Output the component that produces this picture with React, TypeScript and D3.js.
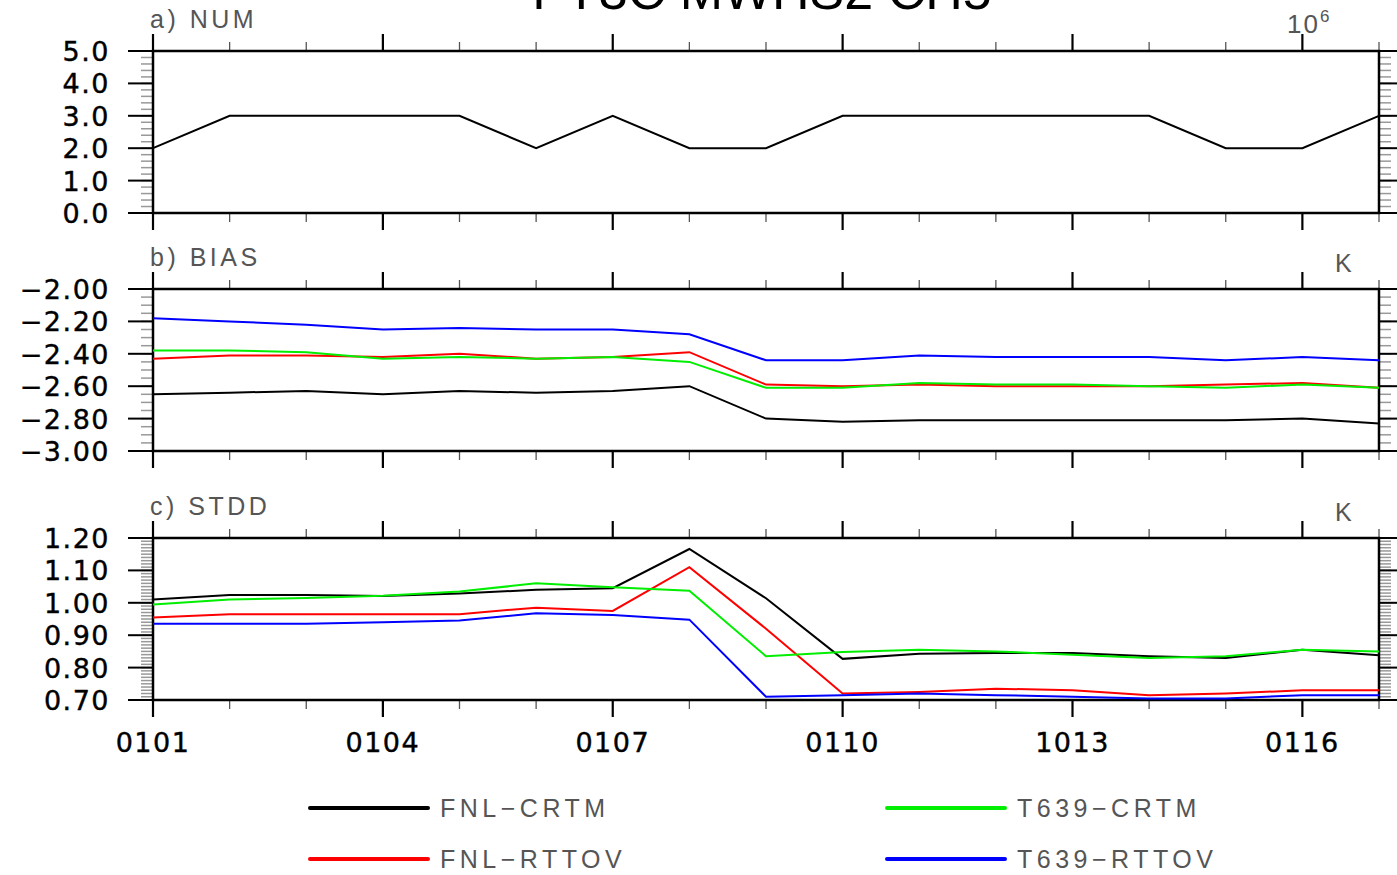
import * as d3 from "d3";

// dates 0101 .. 0117, one point per day
const days = d3.range(17);
const dayLabels = ["0101", "0104", "0107", "0110", "1013", "0116"];
const labelDays = [0, 3, 6, 9, 12, 15];

const numObs = [2, 3, 3, 3, 3, 2, 3, 2, 2, 3, 3, 3, 3, 3, 2, 2, 3];

const biasFnlCrtm = [-2.65, -2.64, -2.63, -2.65, -2.63, -2.64, -2.63, -2.6, -2.8, -2.82, -2.81, -2.81, -2.81, -2.81, -2.81, -2.8, -2.83];
const biasFnlRttov = [-2.43, -2.41, -2.41, -2.42, -2.4, -2.43, -2.42, -2.39, -2.59, -2.6, -2.59, -2.6, -2.6, -2.6, -2.59, -2.58, -2.61];
const biasT639Crtm = [-2.38, -2.38, -2.39, -2.43, -2.42, -2.43, -2.42, -2.45, -2.61, -2.61, -2.58, -2.59, -2.59, -2.6, -2.61, -2.59, -2.61];
const biasT639Rttov = [-2.18, -2.2, -2.22, -2.25, -2.24, -2.25, -2.25, -2.28, -2.44, -2.44, -2.41, -2.42, -2.42, -2.42, -2.44, -2.42, -2.44];

const stdFnlCrtm = [1.01, 1.024, 1.024, 1.021, 1.029, 1.04, 1.045, 1.166, 1.014, 0.827, 0.843, 0.845, 0.845, 0.835, 0.83, 0.855, 0.838];
const stdFnlRttov = [0.955, 0.965, 0.965, 0.965, 0.965, 0.985, 0.975, 1.11, 0.92, 0.72, 0.725, 0.735, 0.73, 0.715, 0.72, 0.73, 0.73];
const stdT639Crtm = [0.995, 1.01, 1.015, 1.022, 1.035, 1.06, 1.048, 1.037, 0.835, 0.848, 0.855, 0.85, 0.84, 0.83, 0.835, 0.855, 0.85];
const stdT639Rttov = [0.935, 0.935, 0.935, 0.94, 0.945, 0.968, 0.962, 0.948, 0.71, 0.715, 0.72, 0.715, 0.71, 0.705, 0.705, 0.715, 0.715];

const seriesNames = ["FNL−CRTM", "FNL−RTTOV", "T639−CRTM", "T639−RTTOV"];
const seriesColors = ["#000000", "#ff0000", "#00ee00", "#0000ff"];

const width = 1397;
const height = 875;
const left = 153;
const right = 1379;

const x = d3.scaleLinear().domain([0, 16]).range([left, right]);

type Panel = {
  top: number;
  bottom: number;
  domain: [number, number];
  major: number;
  minor: number;
  fmt: string;
  label: string;
  unit: string;
  series: number[][];
};

const panels: Panel[] = [
  { top: 51, bottom: 213, domain: [0, 5], major: 1, minor: 0.2, fmt: ".1f", label: "a)  NUM", unit: "10", series: [numObs] },
  { top: 289, bottom: 451, domain: [-3, -2], major: 0.2, minor: 0.05, fmt: ".2f", label: "b)  BIAS", unit: "K", series: [biasFnlCrtm, biasFnlRttov, biasT639Crtm, biasT639Rttov] },
  { top: 538, bottom: 700, domain: [0.7, 1.2], major: 0.1, minor: 0.01, fmt: ".2f", label: "c)  STDD", unit: "K", series: [stdFnlCrtm, stdFnlRttov, stdT639Crtm, stdT639Rttov] },
];

const tickFont = "'DejaVu Sans', sans-serif";
const thinFont = "'Liberation Sans', Arial, sans-serif";

const steps = (lo: number, hi: number, step: number) => {
  const n = Math.round((hi - lo) / step);
  return d3.range(n + 1).map((i) => lo + i * step);
};

const PanelView = ({ p, last }: { p: Panel; last: boolean }) => {
  const y = d3.scaleLinear().domain(p.domain).range([p.bottom, p.top]);
  const line = d3
    .line<number>()
    .x((_, i) => x(days[i]))
    .y((d) => y(d));
  const majors = steps(p.domain[0], p.domain[1], p.major);
  const minors = steps(p.domain[0], p.domain[1], p.minor);
  const fmt = d3.format(p.fmt);

  return (
    <g>
      {/* minor y ticks, both sides, outward */}
      {minors.map((v, i) => (
        <g key={"m" + i} stroke="#999" strokeWidth={1.5}>
          <line x1={left - 12} x2={left} y1={y(v)} y2={y(v)} />
          <line x1={right} x2={right + 12} y1={y(v)} y2={y(v)} />
        </g>
      ))}
      {majors.map((v, i) => (
        <g key={"M" + i}>
          <line x1={left - 25} x2={left} y1={y(v)} y2={y(v)} stroke="#000" strokeWidth={2} />
          <line x1={right} x2={right + 25} y1={y(v)} y2={y(v)} stroke="#000" strokeWidth={2} />
          <text x={110} y={y(v) + 10} textAnchor="end" fontFamily={tickFont} fontSize={27} letterSpacing={1.5} stroke="#000" strokeWidth={0.4} fill="#000">
            {fmt(v)}
          </text>
        </g>
      ))}
      {/* x ticks on top and bottom of every panel */}
      {days.map((d) => {
        const isMajor = d % 3 === 0;
        const len = isMajor ? 17 : 9;
        return (
          <g key={"x" + d} stroke={isMajor ? "#000" : "#555"} strokeWidth={isMajor ? 2.2 : 1.3}>
            <line x1={x(d)} x2={x(d)} y1={p.top - len} y2={p.top} />
            <line x1={x(d)} x2={x(d)} y1={p.bottom} y2={p.bottom + len} />
          </g>
        );
      })}
      <rect x={left} y={p.top} width={right - left} height={p.bottom - p.top} fill="none" stroke="#000" strokeWidth={2.5} />
      {p.series.map((s, i) => (
        <path key={i} d={line(s) ?? undefined} fill="none" stroke={seriesColors[i]} strokeWidth={2} />
      ))}
      <text x={150} y={p.top - 23} fontFamily={thinFont} fontSize={25} letterSpacing={3.5} fill="#555">
        {p.label}
      </text>
      {p.unit === "K" ? (
        <text x={1335} y={p.top - 17} fontFamily={thinFont} fontSize={25} fill="#555">
          K
        </text>
      ) : (
        <text x={1287} y={p.top - 18} fontFamily={thinFont} fontSize={26} letterSpacing={2} fill="#555">
          10
          <tspan fontSize={17} dy={-11}>6</tspan>
        </text>
      )}
      {last &&
        labelDays.map((d, i) => (
          <text key={"l" + i} x={x(d)} y={752} textAnchor="middle" fontFamily={tickFont} fontSize={27} letterSpacing={1.5} stroke="#000" strokeWidth={0.4} fill="#000">
            {dayLabels[i]}
          </text>
        ))}
    </g>
  );
};

const legendPos = [
  { x: 310, y: 808 },
  { x: 310, y: 859 },
  { x: 887, y: 808 },
  { x: 887, y: 859 },
];

export default function App() {
  return (
    <svg width={width} height={height} style={{ position: "absolute", left: 0, top: 0, background: "#fff" }}>
      <text x={762} y={9} textAnchor="middle" fontFamily={thinFont} fontSize={52} fill="#000">
        FY3C MWHS2 CH5
      </text>
      {panels.map((p, i) => (
        <PanelView key={i} p={p} last={i === panels.length - 1} />
      ))}
      {seriesNames.map((name, i) => (
        <g key={name}>
          <line x1={legendPos[i].x} x2={legendPos[i].x + 118} y1={legendPos[i].y} y2={legendPos[i].y} stroke={seriesColors[i]} strokeWidth={4} strokeLinecap="round" />
          <text x={legendPos[i].x + 130} y={legendPos[i].y + 9} fontFamily={thinFont} fontSize={25} letterSpacing={4.5} fill="#555">
            {name}
          </text>
        </g>
      ))}
    </svg>
  );
}
